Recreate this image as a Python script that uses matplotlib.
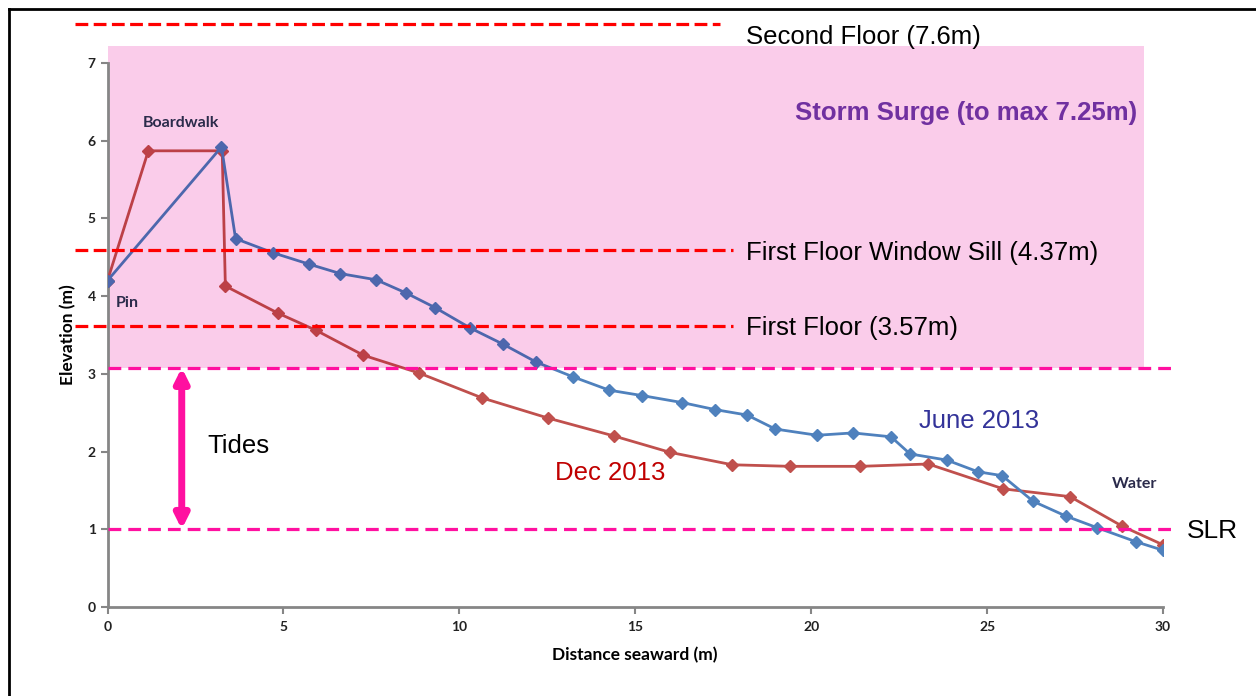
import matplotlib

matplotlib.use("Agg")
import matplotlib.pyplot as plt
from matplotlib.colors import to_rgb
from matplotlib.lines import Line2D
from matplotlib.patches import Rectangle

# Profile data (distance seaward, elevation)
june_x = [0, 3.24, 3.64, 4.69, 5.74, 6.62, 7.64, 8.49, 9.32, 10.31, 11.25,
          12.19, 13.24, 14.26, 15.20, 16.34, 17.27, 18.18, 18.98, 20.17,
          21.19, 22.27, 22.81, 23.86, 24.74, 25.43, 26.31, 27.24, 28.13,
          29.23, 30.0]
june_y = [4.20, 5.92, 4.74, 4.56, 4.41, 4.29, 4.21, 4.04, 3.85, 3.59, 3.38,
          3.15, 2.96, 2.79, 2.72, 2.63, 2.54, 2.47, 2.29, 2.21,
          2.24, 2.19, 1.97, 1.89, 1.74, 1.69, 1.36, 1.17, 1.02,
          0.84, 0.73]

dec_x = [0, 1.16, 3.26, 3.35, 4.85, 5.93, 7.27, 8.86, 10.65, 12.53, 14.40,
         15.99, 17.76, 19.41, 21.40, 23.33, 25.46, 27.36, 28.84, 30.0]
dec_y = [4.20, 5.87, 5.87, 4.13, 3.78, 3.56, 3.24, 3.01, 2.69, 2.43, 2.20,
         1.99, 1.83, 1.81, 1.81, 1.84, 1.52, 1.42, 1.04, 0.80]

# Reference levels (as drawn on the chart)
floor_levels = [7.5, 4.59, 3.62]
floor_labels = ["Second Floor (7.6m)", "First Floor Window Sill (4.37m)",
                "First Floor (3.57m)"]
floor_line_ends = [17.41, 17.78, 17.78]
tide_high = 3.08
tide_low = 1.0
surge_top = 7.22

x_ticks = [0, 5, 10, 15, 20, 25, 30]
y_ticks = [0, 1, 2, 3, 4, 5, 6, 7]

COLORS = {
    "june": "#4F81BD",
    "dec": "#C0504D",
    "floor": "#FF0000",
    "tide": "#FF10A0",
    "surge": "#FACCEA",
    "axis": "#868686",
}


def multiply(c1, c2):
    """Colour of c1 seen through the pink overlay (multiply blend)."""
    return tuple(a * b for a, b in zip(to_rgb(c1), to_rgb(c2)))


fig = plt.figure(figsize=(12.56, 6.96), dpi=100)
ax = fig.add_axes([107.5 / 1256, 1 - 607 / 696, (1163 - 107.5) / 1256, (607 - 63) / 696])

ax.plot(dec_x, dec_y, color=COLORS["dec"], lw=2, marker="D", ms=6, zorder=2)
ax.plot(june_x, june_y, color=COLORS["june"], lw=2, marker="D", ms=6, zorder=2.1)

# storm surge band
surge = Rectangle((0, tide_high), 29.45, surge_top - tide_high,
                  facecolor=COLORS["surge"], lw=0, zorder=3, clip_on=False)
ax.add_patch(surge)

# the profiles again, tinted where they sit under the band
for xs, ys, key, z in [(dec_x, dec_y, "dec", 3.1), (june_x, june_y, "june", 3.2)]:
    tint = multiply(COLORS[key], COLORS["surge"])
    (ln,) = ax.plot(xs, ys, color=tint, lw=2, marker="D", ms=6, zorder=z)
    ln.set_clip_path(surge)

for lvl, end, label in zip(floor_levels, floor_line_ends, floor_labels):
    ax.plot([-0.92, end], [lvl, lvl], color=COLORS["floor"], lw=2.3,
            dashes=(4, 1.7), zorder=4, clip_on=False)
    ax.text(18.15, lvl - 0.16 if lvl > 7 else lvl - 0.03, label,
            fontsize=18.5, family="Liberation Sans", va="center", ha="left", zorder=5)

for lvl in [tide_high, tide_low]:
    ax.plot([0, 30.25], [lvl, lvl], color=COLORS["tide"], lw=2.3,
            dashes=(4, 2.2), zorder=4, clip_on=False)

ax.annotate("", xy=(2.11, tide_low), xytext=(2.11, tide_high),
            arrowprops=dict(arrowstyle="<|-|>", color=COLORS["tide"], lw=5,
                            mutation_scale=20, shrinkA=0, shrinkB=0),
            zorder=5)

ax.text(24.4, 6.36, "Storm Surge (to max 7.25m)", fontsize=18.5, fontweight="bold",
        family="Liberation Sans", color="#7030A0", ha="center", va="center", zorder=5)
ax.text(2.83, 2.07, "Tides", fontsize=18.5, family="Liberation Sans",
        ha="left", va="center", zorder=5)
ax.text(23.07, 2.39, "June 2013", fontsize=18.5, family="Liberation Sans",
        color="#333399", ha="left", va="center", zorder=5)
ax.text(12.72, 1.73, "Dec 2013", fontsize=18.5, family="Liberation Sans",
        color="#C00000", ha="left", va="center", zorder=5)
ax.text(30.68, 0.98, "SLR", fontsize=19, family="Liberation Sans",
        ha="left", va="center", zorder=5)

ax.text(1.0, 6.23, "Boardwalk", fontsize=11.5, fontweight="bold", family="Lato",
        color="#2B2B4B", ha="left", va="center", zorder=5)
ax.text(0.24, 3.91, "Pin", fontsize=11.5, fontweight="bold", family="Lato",
        color="#2B2B4B", ha="left", va="center", zorder=5)
ax.text(28.55, 1.58, "Water", fontsize=11.5, fontweight="bold", family="Lato",
        color="#2B2B4B", ha="left", va="center", zorder=5)

ax.set_xlim(0, 30)
ax.set_ylim(0, 7)
ax.set_xticks(x_ticks)
ax.set_yticks(y_ticks)
for lab in ax.get_xticklabels() + ax.get_yticklabels():
    lab.set_fontfamily("Lato")
    lab.set_fontweight("bold")
    lab.set_fontsize(10)
ax.tick_params(colors=COLORS["axis"], labelcolor="#222222", length=5, width=1.5)
ax.tick_params(axis="x", pad=5)
for side in ["top", "right"]:
    ax.spines[side].set_visible(False)
for side in ["left", "bottom"]:
    ax.spines[side].set_color(COLORS["axis"])
    ax.spines[side].set_linewidth(2)
    ax.spines[side].set_zorder(3.05)
ax.set_xlabel("Distance seaward (m)", fontsize=12.5, fontweight="bold", family="Lato", labelpad=10)
ax.set_ylabel("Elevation (m)", fontsize=12.5, fontweight="bold", family="Lato", labelpad=8)

# frame around the picture
fig.add_artist(Line2D([9 / 1256, 9 / 1256], [0, 1 - 9 / 696], transform=fig.transFigure,
                      color="black", lw=2))
fig.add_artist(Line2D([9 / 1256, 1], [1 - 9 / 696, 1 - 9 / 696], transform=fig.transFigure,
                      color="black", lw=2))

fig.savefig("out.png", dpi=100)
plt.close(fig)
